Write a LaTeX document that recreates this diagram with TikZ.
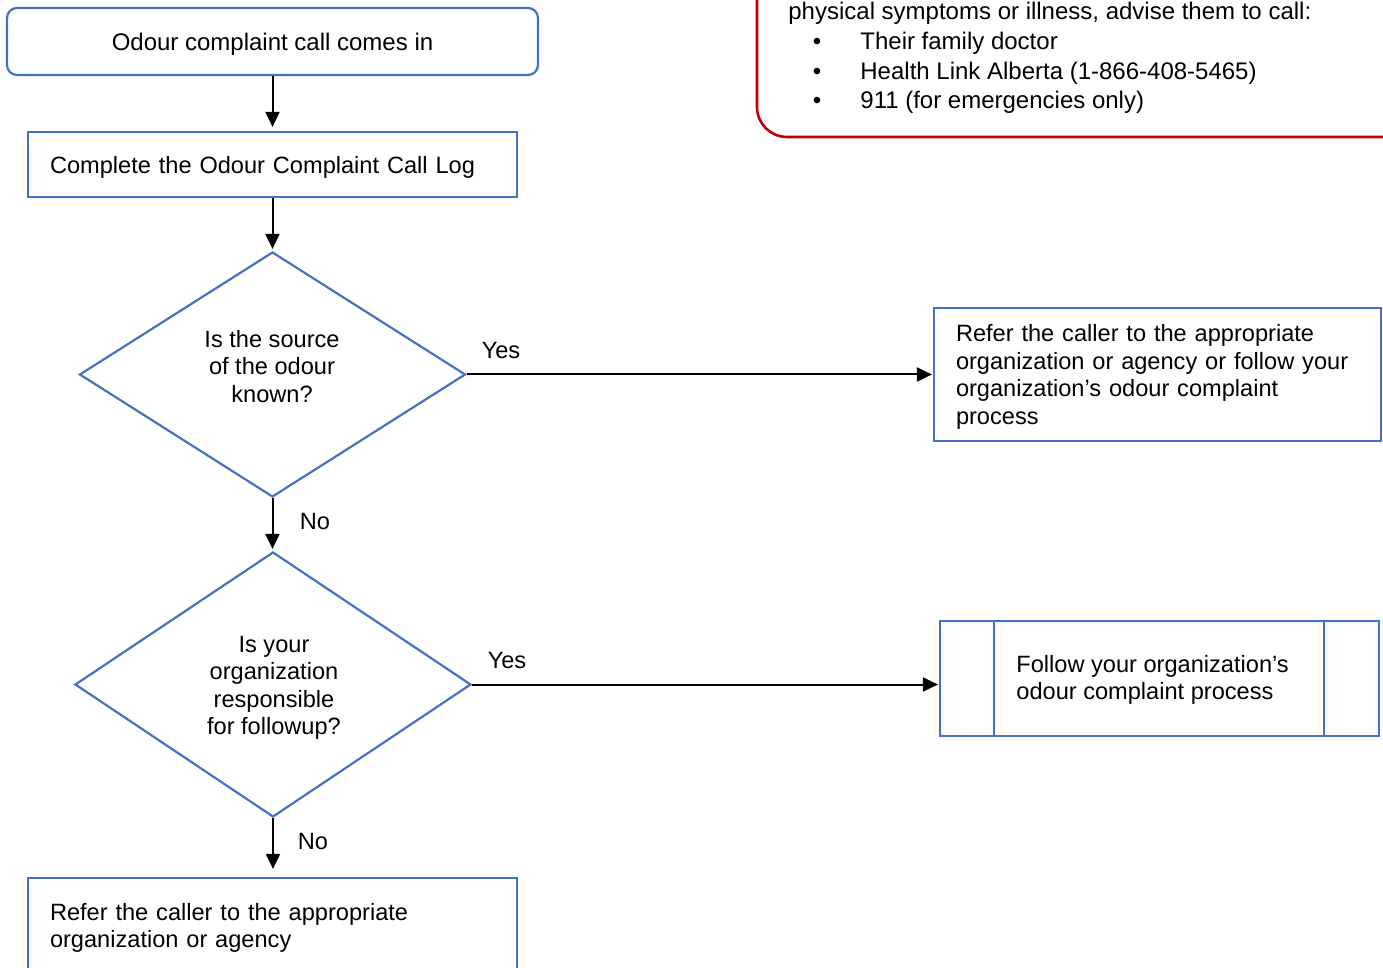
\documentclass[tikz,border=0pt]{standalone}
\usepackage{fontspec}
\setmainfont{Liberation Sans}
\usetikzlibrary{shapes.geometric,arrows.meta,calc}
\definecolor{boxblue}{HTML}{4472C4}
\definecolor{notered}{HTML}{C00000}
\begin{document}
\begin{tikzpicture}[x=0.5pt,y=-0.5pt,
  every node/.style={font=\fontsize{11.8pt}{13.75pt}\selectfont, inner sep=0pt},
  bigtext/.style={font=\fontsize{12pt}{13.75pt}\selectfont},
  bluebox/.style={draw=boxblue, line width=1.1pt, rectangle},
  txtbox/.style={bluebox, align=left, inner xsep=11pt, inner ysep=0pt},
  decision/.style={draw=boxblue, line width=1.1pt, diamond, inner sep=0pt},
  dtext/.style={align=center},
  flow/.style={-{Triangle[length=7.5pt,width=7pt]}, line width=1pt, black},
  lbl/.style={anchor=center}
]
\useasboundingbox (0,0) rectangle (1383,968);
\clip (0,0) rectangle (1383,968);

% note box (red)
\node[draw=notered, line width=1.3pt, rounded corners=15pt, minimum width=336.5pt, minimum height=108.5pt] (note) at (1093.5,28.5) {};
\node[bigtext, anchor=base west] (n0) at (788,20) {physical symptoms or illness, advise them to call:};
\node[bigtext, anchor=base] (nb1) at (817,50) {•};
\node[bigtext, anchor=base west] (n1) at (860,50) {Their family doctor};
\node[bigtext, anchor=base] (nb2) at (817,79.5) {•};
\node[bigtext, anchor=base west] (n2) at (860,79.5) {Health Link Alberta (1-866-408-5465)};
\node[bigtext, anchor=base] (nb3) at (817,109) {•};
\node[bigtext, anchor=base west] (n3) at (860,109) {911 (for emergencies only)};

% flow
\node[bluebox, bigtext, text depth=0pt, rounded corners=5pt, minimum width=265.5pt, minimum height=33.5pt] (start) at (272.5,41.5) {Odour complaint call comes in};
\node[txtbox, text depth=0pt, text width=222.5pt, minimum height=32.5pt] (log) at (272.5,164.5) {Complete the Odour Complaint Call Log};

\node[decision, minimum width=193pt, minimum height=122.5pt] (d1) at (272.5,374.5) {};
\node[dtext] (d1t) at (272,366.5) {Is the source\\of the odour\\known?};

\node[decision, minimum width=198pt, minimum height=132.5pt] (d2) at (273,684.5) {};
\node[dtext] (d2t) at (274,688) {Is your\\organization\\responsible\\for followup?};

\node[txtbox, text depth=41.25pt, text width=201.5pt, minimum height=66.5pt] (b3) at (1157.5,374.5) {Refer the caller to the appropriate\\organization or agency or follow your\\organization’s odour complaint\\process};

\node[bluebox, minimum width=219.5pt, minimum height=57.5pt] (b4) at (1159.5,678.5) {};
\draw[boxblue, line width=1.1pt] ($(b4.north west)+(55,0)$) -- ($(b4.south west)+(55,0)$);
\draw[boxblue, line width=1.1pt] ($(b4.north east)+(-56,0)$) -- ($(b4.south east)+(-56,0)$);
\node[anchor=west, align=left] (b4t) at (1016,680) {Follow your organization’s\\odour complaint process};

\node[txtbox, text depth=13.75pt, text width=222.5pt, minimum height=47.5pt] (b5) at (272.5,925.5) {Refer the caller to the appropriate\\organization or agency};

% connectors
\draw[flow, shorten >=2pt] (start.south) -- (log.north);
\draw[flow, shorten >=1pt] (log.south) -- (d1.north);
\draw[flow, shorten >=1pt] (d1.south) -- (d1.south |- d2.north);
\draw[flow, shorten >=0.5pt] (d1.east) -- (d1.east -| b3.west);
\draw[flow, shorten >=0.5pt] (d2.east) -- (d2.east -| b4.west);
\draw[flow, shorten >=4pt] (d2.south) -- (d2.south |- b5.north);

% labels
\node[lbl] (y1) at (501,350) {Yes};
\node[lbl] (no1) at (315,521) {No};
\node[lbl] (y2) at (507,660) {Yes};
\node[lbl] (no2) at (313,841) {No};
\end{tikzpicture}
\end{document}
